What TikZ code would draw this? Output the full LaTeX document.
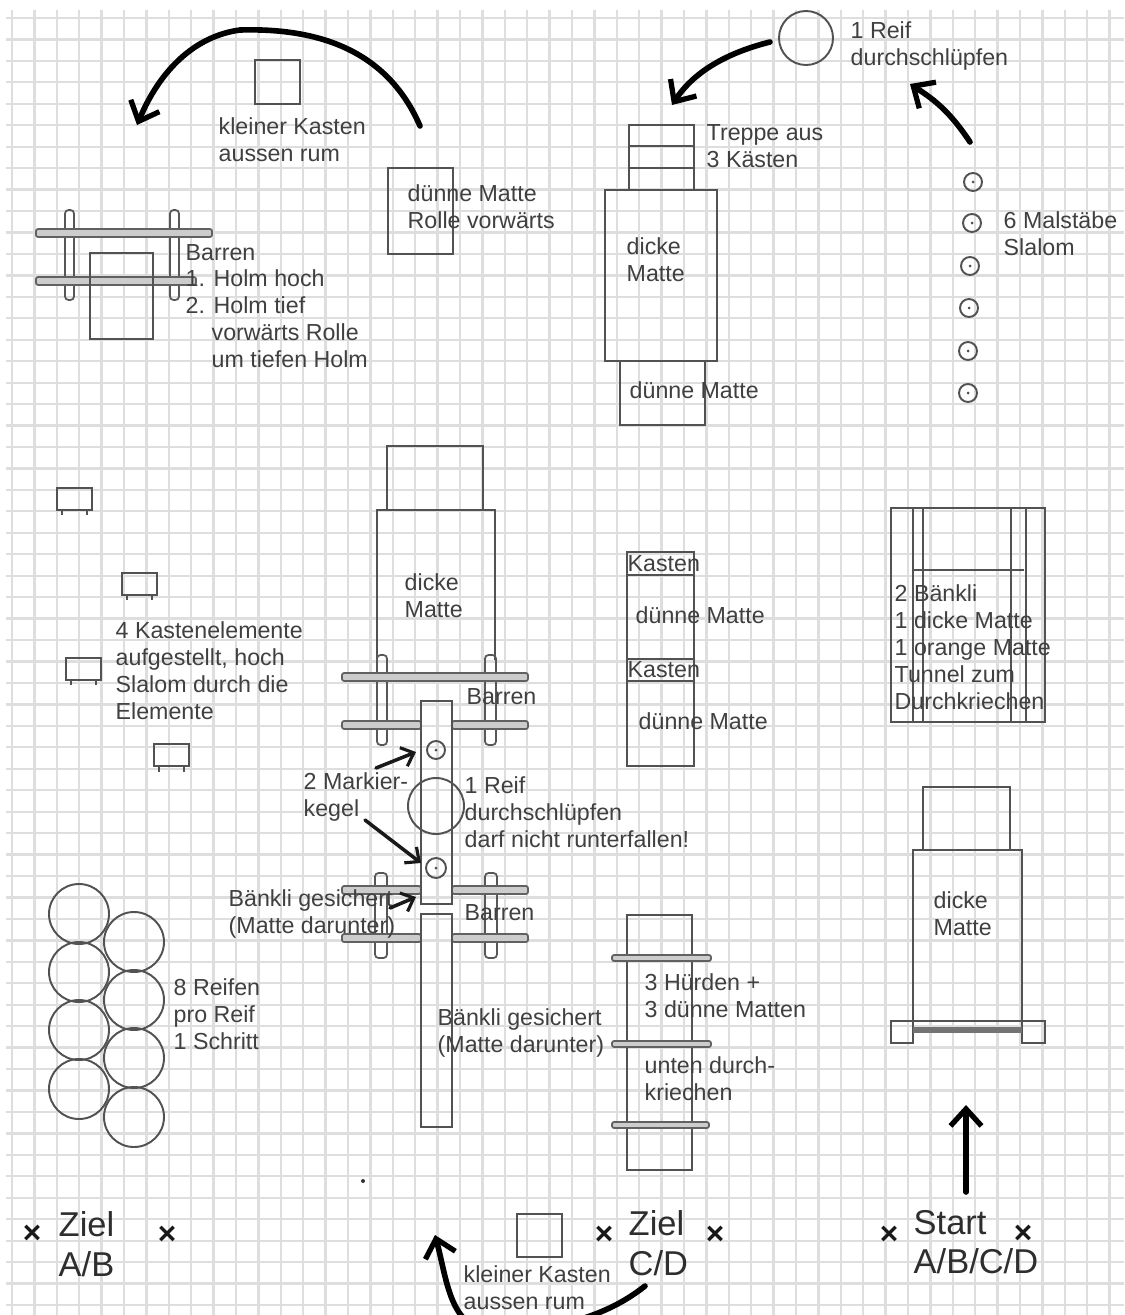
\documentclass[tikz,border=0pt]{standalone}
\usepackage{fontspec}
\setmainfont{Liberation Sans}
\usetikzlibrary{arrows.meta}
\tikzset{
	pen/.style={draw=black!68,line width=0.55pt},
	holm/.style={draw=black!62,line width=0.5pt,fill=black!20,rounded corners=0.6pt},
	leg/.style={draw=black!66,line width=0.5pt,rounded corners=1pt},
	route/.style={draw=black,line width=1.6pt,line cap=round,-{Straight Barb[length=1.7mm,width=3.1mm,line width=1.5pt]}},
	shortroute/.style={draw=black!90,line width=1pt,line cap=round,-{Straight Barb[length=1.1mm,width=2mm,line width=0.9pt]}},
	note/.style={inner sep=0pt,anchor=west,align=left,text=black!75,font=\fontsize{6.6}{7.65}\selectfont},
	bignote/.style={inner sep=0pt,anchor=west,align=left,text=black!82,font=\fontsize{9.8}{11.2}\selectfont},
	cross/.style={inner sep=0pt,text=black!90,font=\fontsize{9}{9}\selectfont\bfseries}
}
\begin{document}
\begin{tikzpicture}[x=0.01cm,y=-0.01cm]
	\fill[white] (0,0) rectangle (1124,1315);
	\useasboundingbox (0,0) rectangle (1124,1315);
	\clip (0,0) rectangle (1124,1315);
	%Paper
	\foreach \gx in {0,...,49} {
		\draw[black!13,line width=0.65pt] ({12+22.4*\gx},10)--({12+22.4*\gx},1315);
	}
	\foreach \gy in {0,...,60} {
		\draw[black!13,line width=0.65pt] (6,{18+21.45*\gy})--(1124,{18+21.45*\gy});
	}
	%Top left
	\draw[pen] (255,60) rectangle (300,104);
	\node[note] (kastenTop) at (218,140) {kleiner Kasten\\aussen rum};
	\draw[route] (420,126) .. controls (385,45) and (310,28) .. (240,30) .. controls (195,36) and (160,70) .. (137,125);
	\draw[pen] (388,168) rectangle (453,254);
	\node[note] (matteRolle) at (407,207) {dünne Matte\\Rolle vorwärts};
	\draw[leg] (65,210) rectangle (74,300);
	\draw[leg] (170,210) rectangle (179,300);
	\draw[holm] (36,229) rectangle (212,237);
	\draw[holm] (36,277) rectangle (196,285);
	\draw[pen] (90,253) rectangle (153,339);
	\node[note] (barrenTop) at (185,306) {Barren\\1. Holm hoch\\2. Holm tief\\\hspace*{0.26cm}vorwärts Rolle\\\hspace*{0.26cm}um tiefen Holm};
	%Top middle
	\draw[pen] (806,38) circle (27);
	\node[note] (reifTop) at (850,46) {1 Reif\\durchschlüpfen};
	\draw[route] (770,42) .. controls (730,52) and (695,70) .. (672,105);
	\draw[route] (970,142) .. controls (950,112) and (935,100) .. (910,84);
	\draw[pen] (629,125) rectangle (694,190);
	\draw[pen] (629,146)--(694,146);
	\draw[pen] (629,168)--(694,168);
	\node[note] (treppe) at (706,146) {Treppe aus\\3 Kästen};
	\draw[pen] (605,190) rectangle (717,361);
	\node[note] (dickeTop) at (626,260) {dicke\\Matte};
	\draw[pen] (620,361) rectangle (705,425);
	\node[note] (duenneTop) at (629,390) {dünne Matte};
	%Top right
	\draw[pen] (973,182) circle (9);
	\draw[pen] (972,223) circle (9);
	\draw[pen] (970,266) circle (9);
	\draw[pen] (969,308) circle (9);
	\draw[pen] (968,351) circle (9);
	\draw[pen] (968,393) circle (9);
	\fill[black!70] (973,182) circle (1.5);
	\fill[black!70] (972,223) circle (1.5);
	\fill[black!70] (970,266) circle (1.5);
	\fill[black!70] (969,308) circle (1.5);
	\fill[black!70] (968,351) circle (1.5);
	\fill[black!70] (968,393) circle (1.5);
	\node[note] (malstaebe) at (1003,234) {6 Malstäbe\\Slalom};
	%Kastenelemente
	\draw[pen] (57,488) rectangle (92,510);
	\draw[pen] (62,510)--(62,515);
	\draw[pen] (87,510)--(87,515);
	\draw[pen] (122,573) rectangle (157,595);
	\draw[pen] (127,595)--(127,600);
	\draw[pen] (152,595)--(152,600);
	\draw[pen] (66,658) rectangle (101,680);
	\draw[pen] (71,680)--(71,685);
	\draw[pen] (96,680)--(96,685);
	\draw[pen] (154,744) rectangle (189,766);
	\draw[pen] (159,766)--(159,772);
	\draw[pen] (184,766)--(184,772);
	\node[note] (elemente) at (115,671) {4 Kastenelemente\\aufgestellt, hoch\\Slalom durch die\\Elemente};
	%Middle column
	\draw[pen] (387,446) rectangle (483,510);
	\draw[pen] (377,660)--(377,510)--(495,510)--(495,660);
	\node[note] (dickeMid) at (404,596) {dicke\\Matte};
	\draw[leg] (377,655) rectangle (387,745);
	\draw[leg] (485,655) rectangle (496,745);
	\draw[holm] (342,673) rectangle (528,681);
	\draw[holm] (342,721) rectangle (421,729);
	\draw[holm] (452,721) rectangle (528,729);
	\node[note] (barrenOben) at (466,697) {Barren};
	\draw[leg] (375,873) rectangle (387,958);
	\draw[leg] (485,873) rectangle (497,958);
	\draw[holm] (342,886) rectangle (421,894);
	\draw[holm] (452,886) rectangle (528,894);
	\draw[holm] (342,934) rectangle (421,942);
	\draw[holm] (452,934) rectangle (528,942);
	\node[note] (barrenUnten) at (464,913) {Barren};
	\draw[pen] (421,701) rectangle (452,904);
	\draw[pen] (421,914) rectangle (452,1127);
	\draw[pen] (436,750) circle (9);
	\draw[pen] (436,868) circle (10);
	\fill[black!70] (436,750) circle (1.5);
	\fill[black!70] (436,868) circle (1.5);
	\draw[pen] (436,806) circle (28);
	\node[note] (markier) at (303,797) {2 Markier-\\kegel};
	\draw[shortroute] (376,768) -- (416,752);
	\draw[shortroute] (365,820) -- (421,863);
	\draw[shortroute] (390,908) -- (416,897);
	\node[note] (reifMid) at (464,812) {1 Reif\\durchschlüpfen\\darf nicht runterfallen!};
	\node[note] (baenkliOben) at (228,914) {Bänkli gesichert\\(Matte darunter)};
	\node[note] (baenkliUnten) at (437,1033) {Bänkli gesichert\\(Matte darunter)};
	%Kasten column
	\draw[pen] (627,552) rectangle (694,766);
	\draw[pen] (627,575)--(694,575);
	\draw[pen] (627,659)--(694,659);
	\draw[pen] (627,681)--(694,681);
	\node[note] (kastenA) at (627,564) {Kasten};
	\node[note] (duenneA) at (635,615) {dünne Matte};
	\node[note] (kastenB) at (627,670) {Kasten};
	\node[note] (duenneB) at (638,721) {dünne Matte};
	%Tunnel
	\draw[pen] (891,508) rectangle (1045,722);
	\draw[pen] (913,508)--(913,722);
	\draw[pen] (923,508)--(923,722);
	\draw[pen] (1011,508)--(1011,722);
	\draw[pen] (1026,508)--(1026,722);
	\draw[pen] (913,570)--(1024,570);
	\node[note] (tunnel) at (894,647) {2 Bänkli\\1 dicke Matte\\1 orange Matte\\Tunnel zum\\Durchkriechen};
	%Start
	\draw[pen] (923,787) rectangle (1010,850);
	\draw[pen] (913,1021)--(913,850)--(1022,850)--(1022,1021);
	\draw[pen] (891,1021) rectangle (913,1043);
	\draw[pen] (1022,1021) rectangle (1045,1043);
	\draw[pen] (913,1021)--(1022,1021);
	\fill[black!55] (913,1027) rectangle (1022,1033);
	\node[note] (dickeStart) at (933,914) {dicke\\Matte};
	\draw[route] (966,1192) -- (966,1105);
	%Huerden
	\draw[pen] (627,915) rectangle (692,1170);
	\draw[holm] (612,955) rectangle (711,961);
	\draw[holm] (612,1041) rectangle (711,1047);
	\draw[holm] (612,1122) rectangle (709,1128);
	\node[note] (huerden) at (644,996) {3 Hürden +\\3 dünne Matten};
	\node[note] (kriechen) at (644,1079) {unten durch-\\kriechen};
	%Reifen
	\draw[pen] (79,914) circle (30);
	\draw[pen] (134,942) circle (30);
	\draw[pen] (79,972) circle (30);
	\draw[pen] (134,1000) circle (30);
	\draw[pen] (79,1030) circle (30);
	\draw[pen] (134,1058) circle (30);
	\draw[pen] (79,1089) circle (30);
	\draw[pen] (134,1117) circle (30);
	\node[note] (reifen) at (173,1014) {8 Reifen\\pro Reif\\1 Schritt};
	%Bottom row
	\fill[black!80] (363,1181) circle (2);
	\node[cross] (crossA) at (32,1234) {×};
	\node[cross] (crossB) at (167,1235) {×};
	\node[bignote] (zielAB) at (58,1244) {Ziel\\A/B};
	\draw[pen] (517,1214) rectangle (562,1257);
	\node[cross] (crossC) at (604,1235) {×};
	\node[cross] (crossD) at (715,1235) {×};
	\node[bignote] (zielCD) at (628,1243) {Ziel\\C/D};
	\node[cross] (crossE) at (889,1235) {×};
	\node[cross] (crossF) at (1023,1234) {×};
	\node[bignote] (start) at (913,1242) {Start\\A/B/C/D};
	\draw[route] (645,1286) .. controls (600,1322) and (540,1332) .. (490,1330) .. controls (450,1328) and (447,1280) .. (435,1235);
	\node[note] (kastenBottom) at (463,1288) {kleiner Kasten\\aussen rum};
\end{tikzpicture}
\end{document}
